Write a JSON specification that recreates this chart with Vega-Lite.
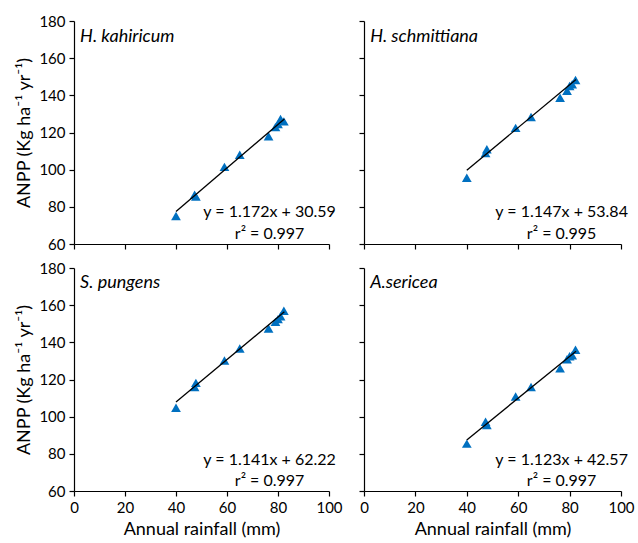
{
  "$schema": "https://vega.github.io/schema/vega-lite/v6.json",
  "padding": {"left": 15, "top": 14, "right": 5, "bottom": 5},
  "background": "white",
  "datasets": {
    "pts": [
      {"sp": "HK", "x": 40, "y": 75.1}, {"sp": "HK", "x": 47.3, "y": 86.5}, {"sp": "HK", "x": 47.8, "y": 85.5}, {"sp": "HK", "x": 59, "y": 101.5}, {"sp": "HK", "x": 65, "y": 108}, {"sp": "HK", "x": 76.3, "y": 118}, {"sp": "HK", "x": 79, "y": 123}, {"sp": "HK", "x": 80, "y": 124.5}, {"sp": "HK", "x": 81, "y": 127.3}, {"sp": "HK", "x": 82.3, "y": 126},
      {"sp": "HS", "x": 40, "y": 95.7}, {"sp": "HS", "x": 47.3, "y": 109}, {"sp": "HS", "x": 47.8, "y": 111}, {"sp": "HS", "x": 59, "y": 122.5}, {"sp": "HS", "x": 65, "y": 128.3}, {"sp": "HS", "x": 76.3, "y": 138.7}, {"sp": "HS", "x": 79, "y": 142.5}, {"sp": "HS", "x": 80, "y": 145}, {"sp": "HS", "x": 81, "y": 146}, {"sp": "HS", "x": 82.3, "y": 148.3},
      {"sp": "SP", "x": 40, "y": 104.8}, {"sp": "SP", "x": 47.3, "y": 116}, {"sp": "SP", "x": 47.8, "y": 118.2}, {"sp": "SP", "x": 59, "y": 130.2}, {"sp": "SP", "x": 65, "y": 136.7}, {"sp": "SP", "x": 76.3, "y": 147.4}, {"sp": "SP", "x": 79, "y": 151}, {"sp": "SP", "x": 80, "y": 152.5}, {"sp": "SP", "x": 81, "y": 154}, {"sp": "SP", "x": 82.3, "y": 157},
      {"sp": "AS", "x": 40, "y": 85.5}, {"sp": "AS", "x": 47.3, "y": 97.3}, {"sp": "AS", "x": 47.8, "y": 95.5}, {"sp": "AS", "x": 59, "y": 110.9}, {"sp": "AS", "x": 65, "y": 116}, {"sp": "AS", "x": 76.3, "y": 126}, {"sp": "AS", "x": 79, "y": 130.9}, {"sp": "AS", "x": 80, "y": 132.5}, {"sp": "AS", "x": 81, "y": 133}, {"sp": "AS", "x": 82.3, "y": 136}
    ],
    "lines": [
      {"sp": "HK", "x": 40, "y": 77.5}, {"sp": "HK", "x": 82.5, "y": 127.3},
      {"sp": "HS", "x": 40, "y": 99.7}, {"sp": "HS", "x": 82.5, "y": 148.5},
      {"sp": "SP", "x": 40, "y": 107.9}, {"sp": "SP", "x": 82.5, "y": 156.4},
      {"sp": "AS", "x": 40, "y": 87.5}, {"sp": "AS", "x": 82.5, "y": 135.2}
    ],
    "names": [
      {"sp": "HK", "x": 2.4, "y": 171.5, "t": "H. kahiricum"},
      {"sp": "HS", "x": 2.4, "y": 171.5, "t": "H. schmittiana"},
      {"sp": "SP", "x": 2.4, "y": 172, "t": "S. pungens"},
      {"sp": "AS", "x": 2.4, "y": 172, "t": "A.sericea"}
    ],
    "eqs": [
      {"sp": "HK", "x": 76.7, "y": 77.2, "t": "y = 1.172x + 30.59"}, {"sp": "HK", "x": 76.7, "y": 65.6, "t": "r² = 0.997"},
      {"sp": "HS", "x": 76.9, "y": 77.2, "t": "y = 1.147x + 53.84"}, {"sp": "HS", "x": 76.9, "y": 65.6, "t": "r² = 0.995"},
      {"sp": "SP", "x": 76.7, "y": 76.6, "t": "y = 1.141x + 62.22"}, {"sp": "SP", "x": 76.7, "y": 65.4, "t": "r² = 0.997"},
      {"sp": "AS", "x": 76.9, "y": 76.6, "t": "y = 1.123x + 42.57"}, {"sp": "AS", "x": 76.9, "y": 65.4, "t": "r² = 0.997"}
    ]
  },
  "columns": 2,
  "bounds": "flush",
  "spacing": {"row": 24, "column": 35},
  "concat": [
    {
      "width": 255, "height": 223,
      "encoding": {
        "x": {"field": "x", "type": "quantitative", "scale": {"domain": [0, 100], "nice": false}, "axis": {"labels": false, "title": null, "values": [0, 20, 40, 60, 80, 100]}},
        "y": {"field": "y", "type": "quantitative", "scale": {"domain": [60, 180], "nice": false, "zero": false}, "axis": {"title": "ANPP (Kg ha⁻¹ yr⁻¹)", "values": [60, 80, 100, 120, 140, 160, 180], "labelOverlap": false, "labelSeparation": 0}}
      },
      "layer": [
        {"data": {"name": "pts"}, "transform": [{"filter": "datum.sp == 'HK'"}], "mark": {"type": "point", "shape": "triangle-up", "filled": true, "color": "#0070C0", "size": 95, "opacity": 1}},
        {"data": {"name": "lines"}, "transform": [{"filter": "datum.sp == 'HK'"}], "mark": {"type": "line", "color": "black", "strokeWidth": 1.3}},
        {"data": {"name": "names"}, "transform": [{"filter": "datum.sp == 'HK'"}], "mark": {"type": "text", "align": "left", "baseline": "middle", "fontStyle": "italic", "fontSize": 18, "font": "Lato", "color": "black"}, "encoding": {"text": {"field": "t"}}},
        {"data": {"name": "eqs"}, "transform": [{"filter": "datum.sp == 'HK'"}], "mark": {"type": "text", "align": "center", "baseline": "middle", "fontSize": 16, "font": "Lato", "color": "black"}, "encoding": {"text": {"field": "t"}}}
      ]
    },
    {
      "width": 257, "height": 223,
      "encoding": {
        "x": {"field": "x", "type": "quantitative", "scale": {"domain": [0, 100], "nice": false}, "axis": {"labels": false, "title": null, "values": [0, 20, 40, 60, 80, 100]}},
        "y": {"field": "y", "type": "quantitative", "scale": {"domain": [60, 180], "nice": false, "zero": false}, "axis": {"labels": false, "title": null, "values": [60, 80, 100, 120, 140, 160, 180]}}
      },
      "layer": [
        {"data": {"name": "pts"}, "transform": [{"filter": "datum.sp == 'HS'"}], "mark": {"type": "point", "shape": "triangle-up", "filled": true, "color": "#0070C0", "size": 95, "opacity": 1}},
        {"data": {"name": "lines"}, "transform": [{"filter": "datum.sp == 'HS'"}], "mark": {"type": "line", "color": "black", "strokeWidth": 1.3}},
        {"data": {"name": "names"}, "transform": [{"filter": "datum.sp == 'HS'"}], "mark": {"type": "text", "align": "left", "baseline": "middle", "fontStyle": "italic", "fontSize": 18, "font": "Lato", "color": "black"}, "encoding": {"text": {"field": "t"}}},
        {"data": {"name": "eqs"}, "transform": [{"filter": "datum.sp == 'HS'"}], "mark": {"type": "text", "align": "center", "baseline": "middle", "fontSize": 16, "font": "Lato", "color": "black"}, "encoding": {"text": {"field": "t"}}}
      ]
    },
    {
      "width": 255, "height": 223,
      "encoding": {
        "x": {"field": "x", "type": "quantitative", "scale": {"domain": [0, 100], "nice": false}, "axis": {"title": "Annual rainfall  (mm)", "values": [0, 20, 40, 60, 80, 100], "labelOverlap": false, "labelSeparation": 0}},
        "y": {"field": "y", "type": "quantitative", "scale": {"domain": [60, 180], "nice": false, "zero": false}, "axis": {"title": "ANPP (Kg ha⁻¹ yr⁻¹)", "values": [60, 80, 100, 120, 140, 160, 180], "labelOverlap": false, "labelSeparation": 0}}
      },
      "layer": [
        {"data": {"name": "pts"}, "transform": [{"filter": "datum.sp == 'SP'"}], "mark": {"type": "point", "shape": "triangle-up", "filled": true, "color": "#0070C0", "size": 95, "opacity": 1}},
        {"data": {"name": "lines"}, "transform": [{"filter": "datum.sp == 'SP'"}], "mark": {"type": "line", "color": "black", "strokeWidth": 1.3}},
        {"data": {"name": "names"}, "transform": [{"filter": "datum.sp == 'SP'"}], "mark": {"type": "text", "align": "left", "baseline": "middle", "fontStyle": "italic", "fontSize": 18, "font": "Lato", "color": "black"}, "encoding": {"text": {"field": "t"}}},
        {"data": {"name": "eqs"}, "transform": [{"filter": "datum.sp == 'SP'"}], "mark": {"type": "text", "align": "center", "baseline": "middle", "fontSize": 16, "font": "Lato", "color": "black"}, "encoding": {"text": {"field": "t"}}}
      ]
    },
    {
      "width": 257, "height": 223,
      "encoding": {
        "x": {"field": "x", "type": "quantitative", "scale": {"domain": [0, 100], "nice": false}, "axis": {"title": "Annual rainfall  (mm)", "values": [0, 20, 40, 60, 80, 100], "labelOverlap": false, "labelSeparation": 0}},
        "y": {"field": "y", "type": "quantitative", "scale": {"domain": [60, 180], "nice": false, "zero": false}, "axis": {"labels": false, "title": null, "values": [60, 80, 100, 120, 140, 160, 180]}}
      },
      "layer": [
        {"data": {"name": "pts"}, "transform": [{"filter": "datum.sp == 'AS'"}], "mark": {"type": "point", "shape": "triangle-up", "filled": true, "color": "#0070C0", "size": 95, "opacity": 1}},
        {"data": {"name": "lines"}, "transform": [{"filter": "datum.sp == 'AS'"}], "mark": {"type": "line", "color": "black", "strokeWidth": 1.3}},
        {"data": {"name": "names"}, "transform": [{"filter": "datum.sp == 'AS'"}], "mark": {"type": "text", "align": "left", "baseline": "middle", "fontStyle": "italic", "fontSize": 18, "font": "Lato", "color": "black"}, "encoding": {"text": {"field": "t"}}},
        {"data": {"name": "eqs"}, "transform": [{"filter": "datum.sp == 'AS'"}], "mark": {"type": "text", "align": "center", "baseline": "middle", "fontSize": 16, "font": "Lato", "color": "black"}, "encoding": {"text": {"field": "t"}}}
      ]
    }
  ],
  "config": {
    "view": {"stroke": null},
    "axis": {
      "grid": false, "domainColor": "#000000", "domainWidth": 1.2, "tickColor": "#000000", "tickWidth": 1.2, "tickSize": 5,
      "labelFont": "Lato", "labelFontSize": 15, "labelColor": "#000000", "labelPadding": 4, "labelFlush": false, "labelOverlap": false,
      "titleFont": "Lato", "titleFontSize": 18, "titleFontWeight": "normal", "titleColor": "#000000", "titlePadding": 5
    },
    "axisY": {"labelOverlap": false},
    "axisQuantitative": {"labelOverlap": false}
  }
}
